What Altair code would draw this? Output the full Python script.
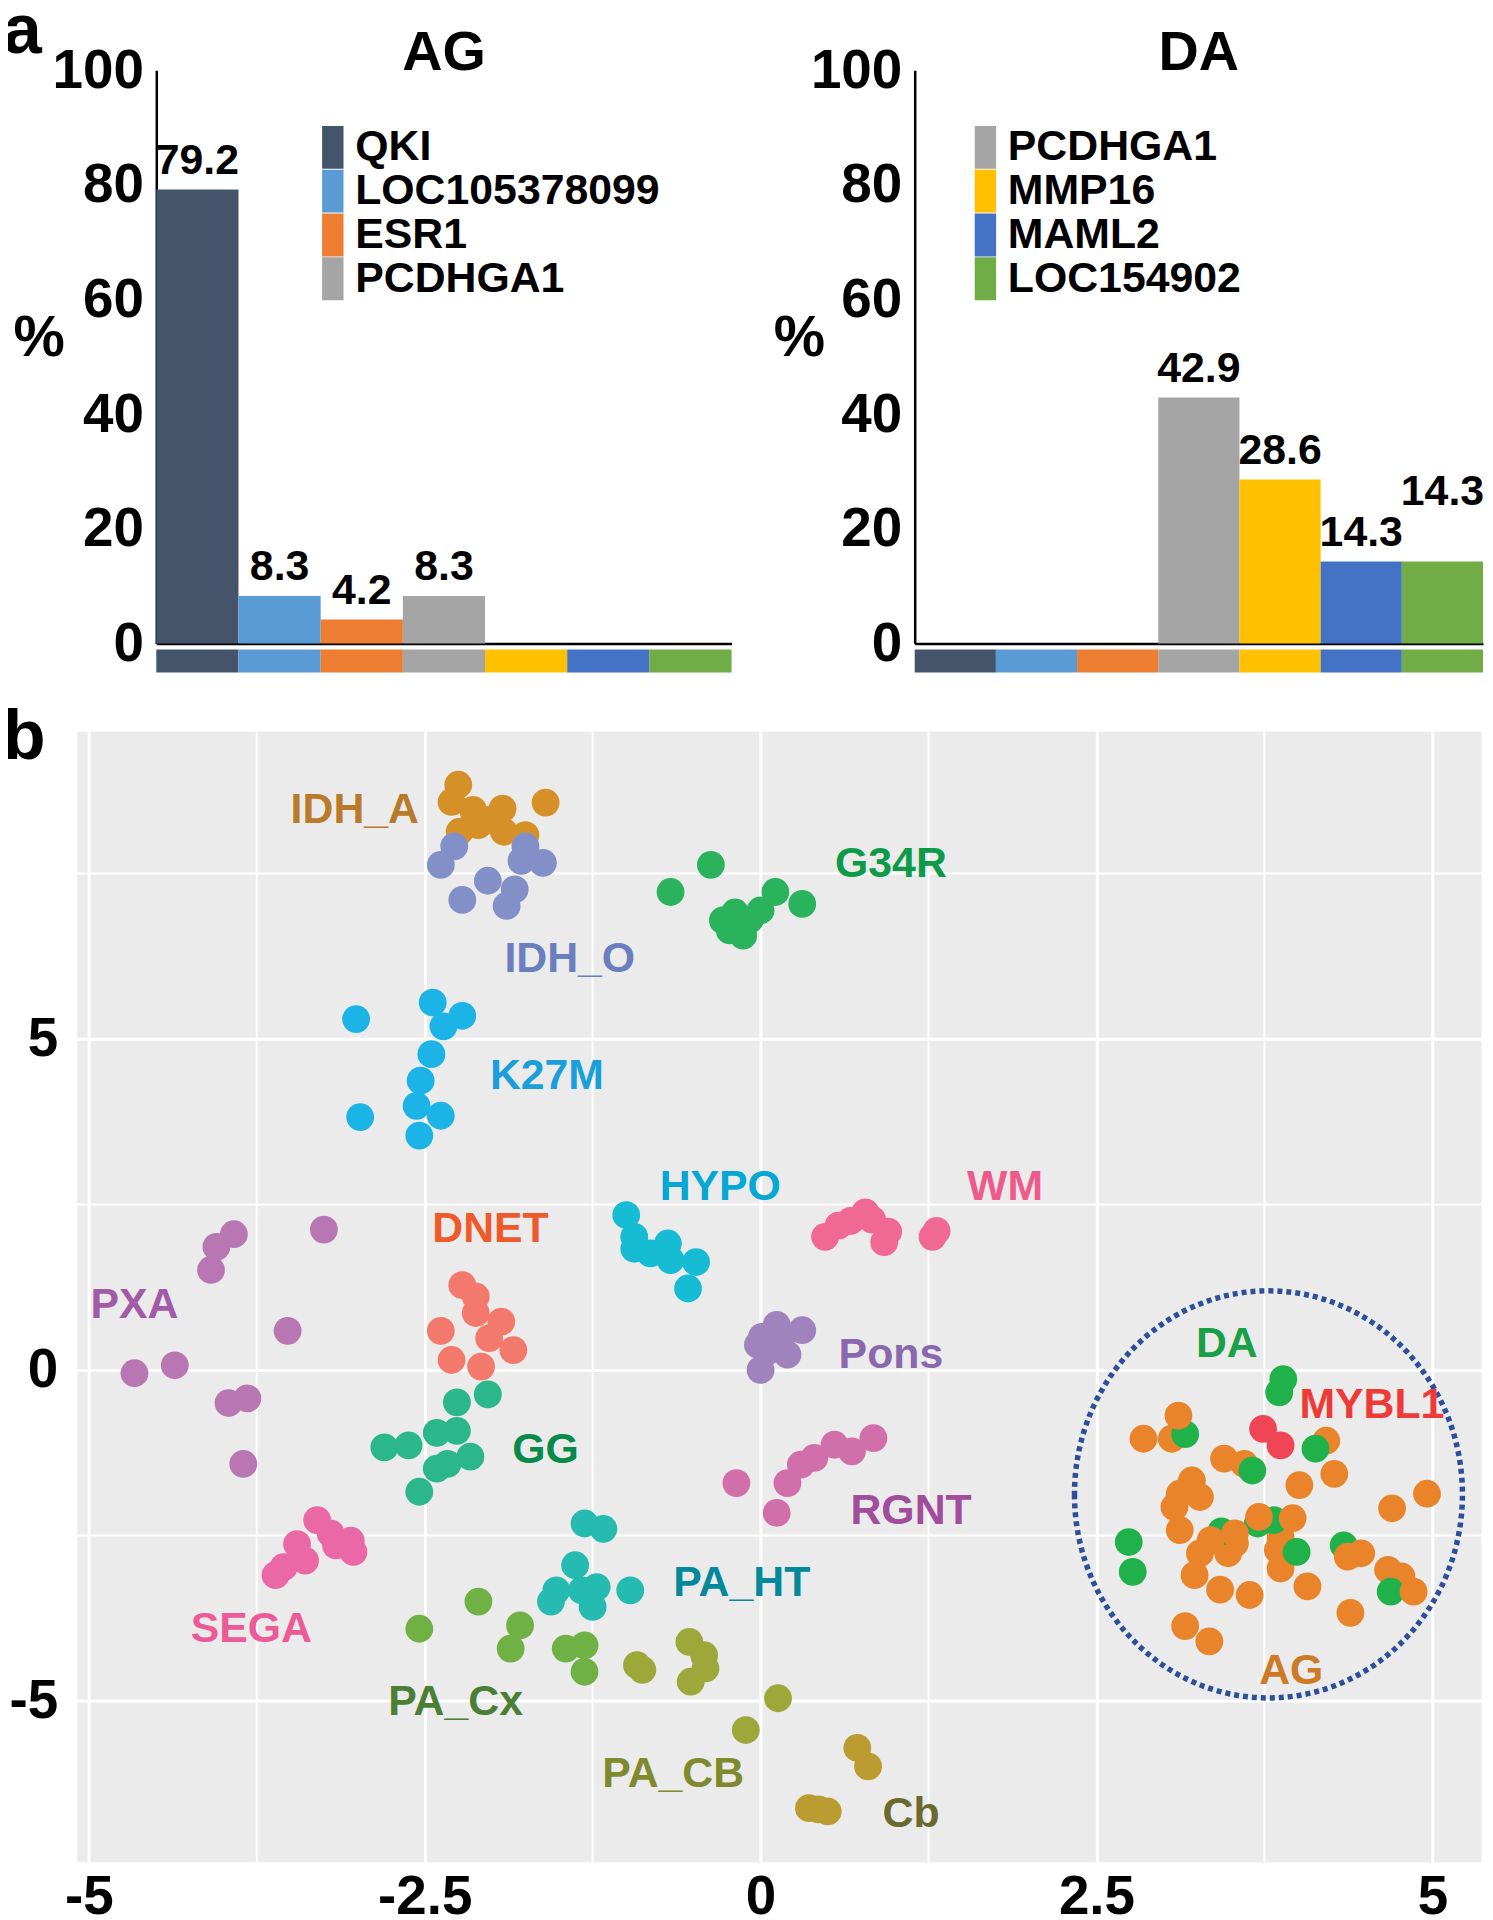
import altair as alt
import pandas as pd

FONT = "Liberation Sans"

# ---------------- panel a data ----------------
genes = ["QKI", "LOC105378099", "ESR1", "PCDHGA1", "MMP16", "MAML2", "LOC154902"]
gene_colors = ["#44546A", "#5B9BD5", "#ED7D31", "#A5A5A5", "#FFC000", "#4472C4", "#70AD47"]
ag_percent = [79.2, 8.3, 4.2, 8.3, 0, 0, 0]
da_percent = [0, 0, 0, 42.9, 28.6, 14.3, 14.3]
ag_legend_genes = ["QKI", "LOC105378099", "ESR1", "PCDHGA1"]
da_legend_genes = ["PCDHGA1", "MMP16", "MAML2", "LOC154902"]
percent_ticks = [0, 20, 40, 60, 80, 100]

# ---------------- panel b data ----------------
IDH_A = [(-2.25, 8.84), (-2.30, 8.58), (-2.14, 8.46), (-1.92, 8.48), (-1.60, 8.57),
         (-2.24, 8.13), (-2.10, 8.23), (-1.91, 8.13), (-1.75, 8.08), (-2.03, 8.31)]
IDH_O = [(-2.28, 7.91), (-2.38, 7.63), (-2.03, 7.39), (-1.83, 7.26), (-2.22, 7.10),
         (-1.89, 7.01), (-1.75, 7.91), (-1.62, 7.66), (-1.78, 7.69)]
G34R = [(-0.67, 7.22), (-0.37, 7.63), (0.11, 7.22), (0.31, 7.04), (-0.28, 6.79),
        (-0.19, 6.91), (-0.13, 6.56), (0.00, 6.94), (-0.23, 6.64), (-0.08, 6.80)]
K27M = [(-3.01, 5.30), (-2.44, 5.55), (-2.22, 5.35), (-2.36, 5.19), (-2.45, 4.77),
        (-2.53, 4.37), (-2.56, 3.99), (-2.38, 3.84), (-2.54, 3.54), (-2.98, 3.82)]
HYPO = [(-1.00, 2.34), (-0.94, 2.01), (-0.94, 1.83), (-0.82, 1.76), (-0.69, 1.91),
        (-0.67, 1.66), (-0.48, 1.63), (-0.54, 1.23)]
WM = [(0.48, 2.01), (0.58, 2.18), (0.67, 2.25), (0.78, 2.38), (0.83, 2.27),
      (0.95, 2.09), (0.92, 1.93), (1.31, 2.10), (1.28, 2.01)]
PXA = [(-3.92, 2.05), (-4.05, 1.86), (-4.09, 1.51), (-3.25, 2.12), (-3.52, 0.59),
       (-4.66, -0.05), (-4.36, 0.07), (-3.96, -0.50), (-3.82, -0.43), (-3.85, -1.42)]
DNET = [(-2.22, 1.28), (-2.12, 1.11), (-2.12, 0.86), (-1.93, 0.73), (-2.38, 0.59),
        (-2.02, 0.48), (-1.84, 0.30), (-2.30, 0.15), (-2.08, 0.05)]
Pons = [(0.01, 0.50), (0.12, 0.68), (0.31, 0.60), (0.20, 0.23), (0.00, 0.00),
        (0.05, 0.28), (0.15, 0.43), (-0.02, 0.38)]
GG = [(-2.03, -0.37), (-2.26, -0.49), (-2.41, -0.95), (-2.26, -0.92), (-2.80, -1.17),
      (-2.62, -1.14), (-2.16, -1.31), (-2.41, -1.49), (-2.33, -1.42), (-2.54, -1.84)]
RGNT = [(0.84, -1.03), (0.68, -1.23), (0.55, -1.13), (0.40, -1.33), (0.30, -1.43),
        (0.20, -1.71), (0.12, -2.16), (-0.18, -1.71)]
SEGA = [(-3.30, -2.27), (-3.20, -2.47), (-3.05, -2.58), (-3.03, -2.75), (-3.16, -2.65),
        (-3.45, -2.63), (-3.39, -2.88), (-3.55, -2.98), (-3.61, -3.10)]
PA_HT = [(-1.31, -2.32), (-1.17, -2.40), (-1.38, -2.95), (-1.52, -3.33), (-1.56, -3.50),
         (-1.22, -3.28), (-1.25, -3.58), (-0.97, -3.33), (-1.33, -3.33)]
PA_Cx = [(-2.54, -3.91), (-2.10, -3.50), (-1.79, -3.86), (-1.86, -4.21), (-1.45, -4.21),
         (-1.31, -4.16), (-1.31, -4.56)]
PA_CB = [(-0.92, -4.46), (-0.88, -4.53), (-0.53, -4.11), (-0.42, -4.31), (-0.41, -4.51),
         (-0.52, -4.71), (0.13, -4.96), (-0.11, -5.44)]
Cb = [(0.72, -5.71), (0.80, -5.99), (0.36, -6.62), (0.50, -6.67), (0.43, -6.64)]
AG_back = [(2.85, -1.04), (3.06, -1.04), (3.45, -1.34), (3.60, -1.42), (3.21, -1.67),
           (3.12, -1.87), (3.27, -1.92), (3.08, -2.07), (3.12, -2.42), (3.27, -2.77),
           (3.48, -2.77), (3.23, -3.10), (3.42, -3.32), (3.64, -3.40), (3.85, -2.72),
           (3.87, -3.00), (4.07, -3.27), (4.01, -1.74), (4.27, -1.57), (4.21, -1.07),
           (4.70, -2.09), (4.96, -1.87), (4.67, -3.02), (4.77, -3.12), (4.39, -3.67),
           (3.16, -3.87), (3.34, -4.10), (3.87, -2.52), (3.53, -2.62)]
DA = [(3.16, -0.97), (3.66, -1.52), (3.89, -0.14), (3.86, -0.34), (4.13, -1.19),
      (2.74, -2.60), (2.77, -3.05), (3.82, -2.27), (3.70, -2.32), (3.99, -2.75),
      (4.34, -2.65), (4.69, -3.35), (3.43, -2.44)]
AG_front = [(3.11, -0.69), (3.71, -2.22), (3.96, -2.24), (4.47, -2.77), (4.37, -2.82),
            (4.86, -3.35), (3.35, -2.57), (3.53, -2.47)]
MYBL1 = [(3.74, -0.89), (3.87, -1.14)]

cluster_order = ["IDH_A", "IDH_O", "G34R", "K27M", "HYPO", "WM", "PXA", "DNET", "Pons",
                 "GG", "RGNT", "SEGA", "PA_HT", "PA_Cx", "PA_CB", "Cb", "AG", "DA", "MYBL1"]
cluster_colors = ["#D69028", "#8390C7", "#2BB25C", "#1CB4E7", "#16BCD3", "#F06995",
                  "#B877B3", "#F4796D", "#A083BD", "#2CB78A", "#D16FAA", "#EA68A6",
                  "#25BBB1", "#6FB144", "#9CA93A", "#BA9C30", "#E9842B", "#21B14B", "#EF4554"]

label_names = ["IDH_A", "IDH_O", "G34R", "K27M", "HYPO", "WM", "DNET", "PXA", "Pons",
               "GG", "RGNT", "SEGA", "PA_HT", "PA_Cx", "PA_CB", "Cb", "DA", "MYBL1", "AG"]
label_x = [-3.02, -1.42, 0.97, -1.59, -0.30, 1.82, -2.01, -4.66, 0.97,
           -1.60, 1.12, -3.79, -0.14, -2.27, -0.65, 1.12, 3.47, 4.55, 3.95]
label_y = [8.49, 6.25, 7.68, 4.47, 2.80, 2.80, 2.16, 1.01, 0.26,
           -1.18, -2.10, -3.88, -3.19, -4.98, -6.07, -6.68, 0.43, -0.50, -4.52]
label_colors = ["#B97A2B", "#6A7EC0", "#0D9B49", "#1A9FDA", "#04A8D2", "#EF5A8C",
                "#EE5A2B", "#A15BA7", "#8A68B0", "#078A4B", "#A24C9C", "#EC5B98",
                "#04899A", "#4A7F35", "#7F8A2E", "#6A6A2E", "#1AA047", "#EE3B37", "#CD7926"]

x_ticks = [-5, -2.5, 0, 2.5, 5]
y_ticks = [-5, 0, 5]
x_minor = [-3.75, -1.25, 1.25, 3.75]
y_minor = [-2.5, 2.5, 7.5]
circle_center_x = [3.78]
circle_center_y = [-1.88]

# ---------------- panel a ----------------
RECT = "M-0.5,-1H0.5V1H-0.5Z"
BAR_H = 576


def bar_panel(name, pct, legend_genes, width, pct_title_x, legend_x, letter, raised):
    df = pd.DataFrame({"gene": genes, "pct": pct, "label": [f"{v:.1f}" for v in pct]})
    x = alt.X("gene:N", sort=genes,
              scale=alt.Scale(domain=genes, paddingInner=0, paddingOuter=0),
              axis=alt.Axis(labels=False, ticks=False, title=None, domainColor="black",
                            domainWidth=2.5, grid=False))
    y = alt.Y("pct:Q", scale=alt.Scale(domain=[0, 100], nice=False),
              axis=alt.Axis(values=percent_ticks, grid=False, ticks=False, domainColor="black",
                            domainWidth=2.5, labelFontSize=55, labelFontWeight="bold",
                            labelColor="black", labelPadding=13, title="%", titleAngle=0,
                            titleX=pct_title_x, titleY=270, titleAlign="left",
                            titleBaseline="middle", titleFontSize=58, titleFontWeight="bold",
                            titleColor="black"))
    color = alt.Color("gene:N", scale=alt.Scale(domain=genes, range=gene_colors),
                      legend=alt.Legend(values=legend_genes, orient="none", legendX=legend_x,
                                        legendY=56, title=None, symbolType=RECT,
                                        symbolSize=1849, symbolStrokeWidth=0, symbolOpacity=1,
                                        labelFontSize=43, labelFontWeight="bold",
                                        labelColor="black", labelOffset=1, labelLimit=600,
                                        rowPadding=0, padding=0))
    base = alt.Chart(df)
    bars = base.mark_bar(strokeWidth=0).encode(x=x, y=y, color=color)
    strip = base.mark_rect(strokeWidth=0).encode(
        x=x, y=alt.value(BAR_H + 6), y2=alt.value(BAR_H + 29), color=color)
    normal = base.transform_filter(
        f"datum.pct > 0 && datum.gene != '{raised}'"
    ).mark_text(dy=-16, baseline="alphabetic", fontSize=43, fontWeight="bold",
                color="black").encode(x=x, y=y, text="label:N")
    layers = [bars, strip, normal]
    if raised:
        layers.append(base.transform_filter(f"datum.gene == '{raised}'").mark_text(
            dy=-57, baseline="alphabetic", fontSize=43, fontWeight="bold", color="black"
        ).encode(x=x, y=y, text="label:N"))
    head = alt.Chart(pd.DataFrame({"t": [name]})).mark_text(
        align="center", baseline="alphabetic", fontSize=56, fontWeight="bold", color="black"
    ).encode(x=alt.value(width / 2), y=alt.value(0), text="t:N")
    layers.append(head)
    if letter:
        layers.append(alt.Chart(pd.DataFrame({"t": [letter]})).mark_text(
            align="left", baseline="alphabetic", fontSize=70, fontWeight="bold", color="black"
        ).encode(x=alt.value(-154), y=alt.value(-17), text="t:N"))
    return alt.layer(*layers).properties(width=width, height=BAR_H)


def spacer():
    return alt.Chart(pd.DataFrame({"s": [0]})).mark_rect(opacity=0).encode(
        x=alt.value(0), x2=alt.value(1), y=alt.value(0), y2=alt.value(1)
    ).properties(width=1, height=1)


ag_chart = bar_panel("AG", ag_percent, ag_legend_genes, 578, -144, 155.85, "a", "")
da_chart = bar_panel("DA", da_percent, da_legend_genes, 571, -142, 49.55, "", "LOC154902")

bars_row = alt.hconcat(ag_chart, da_chart, spacing=40).resolve_scale(
    color="independent").resolve_legend(color="independent")
top = alt.hconcat(spacer(), bars_row, spacing=-1)

# ---------------- panel b ----------------
draw_sequence = [("IDH_A", IDH_A), ("IDH_O", IDH_O), ("G34R", G34R), ("K27M", K27M),
                 ("HYPO", HYPO), ("WM", WM), ("PXA", PXA), ("DNET", DNET), ("Pons", Pons),
                 ("GG", GG), ("RGNT", RGNT), ("SEGA", SEGA), ("PA_HT", PA_HT),
                 ("PA_Cx", PA_Cx), ("PA_CB", PA_CB), ("Cb", Cb), ("AG", AG_back),
                 ("DA", DA), ("AG", AG_front), ("MYBL1", MYBL1)]
rows = []
for cname, pts in draw_sequence:
    for px, py in pts:
        rows.append({"cluster": cname, "x": px, "y": py})
pts_df = pd.DataFrame(rows)

xs = alt.Scale(domain=[-5.09, 5.362], nice=False, zero=False)
ys = alt.Scale(domain=[-7.43, 9.65], nice=False, zero=False)
xa = alt.Axis(values=x_ticks, labelExpr="datum.value + ''", grid=True, gridColor="white",
              gridWidth=3, domain=False, ticks=False, labelFontSize=55, labelFontWeight="bold",
              labelColor="black", labelPadding=9, labelFlush=False, title=None)
ya = alt.Axis(values=y_ticks, labelExpr="datum.value + ''", grid=True, gridColor="white",
              gridWidth=3, domain=False, ticks=False, labelFontSize=55, labelFontWeight="bold",
              labelColor="black", labelPadding=19, labelFlush=False, title=None)

minor_v = alt.Chart(pd.DataFrame({"v": x_minor})).mark_rule(
    color="white", strokeWidth=2).encode(x=alt.X("v:Q", scale=xs, axis=xa))
minor_h = alt.Chart(pd.DataFrame({"v": y_minor})).mark_rule(
    color="white", strokeWidth=2).encode(y=alt.Y("v:Q", scale=ys, axis=ya))

points = alt.Chart(pts_df).mark_circle(size=780, opacity=1).encode(
    x=alt.X("x:Q", scale=xs, axis=xa),
    y=alt.Y("y:Q", scale=ys, axis=ya),
    color=alt.Color("cluster:N", scale=alt.Scale(domain=cluster_order, range=cluster_colors),
                    legend=None))

ELLIPSE = "M-0.953,0A0.953,1 0 1,0 0.953,0A0.953,1 0 1,0 -0.953,0Z"
circle = alt.Chart(pd.DataFrame({"x": circle_center_x, "y": circle_center_y})).mark_point(
    shape=ELLIPSE, filled=False, size=167281, strokeWidth=5.5, strokeDash=[5, 4],
    color="#2D4F98", opacity=1
).encode(x=alt.X("x:Q", scale=xs, axis=xa), y=alt.Y("y:Q", scale=ys, axis=ya))

lab_df = pd.DataFrame({"name": label_names, "x": label_x, "y": label_y})
labels = alt.Chart(lab_df).mark_text(
    fontSize=43, fontWeight="bold", align="center", baseline="middle", dy=2.4
).encode(
    x=alt.X("x:Q", scale=xs, axis=xa),
    y=alt.Y("y:Q", scale=ys, axis=ya),
    text="name:N",
    color=alt.Color("name:N", scale=alt.Scale(domain=label_names, range=label_colors),
                    legend=None))

letter_b = alt.Chart(pd.DataFrame({"t": ["b"]})).mark_text(
    align="left", baseline="alphabetic", fontSize=70, fontWeight="bold", color="black"
).encode(x=alt.value(-74), y=alt.value(28), text="t:N")

scatter = alt.layer(minor_v, minor_h, points, circle, labels, letter_b).resolve_scale(
    color="independent"
).properties(width=1411, height=1136,
             view=alt.ViewBackground(fill="#EBEBEB", stroke="transparent"))

bottom = alt.hconcat(spacer(), scatter, spacing=-1)

chart = alt.vconcat(top, bottom, spacing=29).resolve_scale(
    color="independent"
).properties(
    padding={"top": -16, "left": -8, "right": 0, "bottom": 0}
).configure(font=FONT).configure_view(stroke="transparent")

chart.save("out.html", embed_options={"renderer": "svg", "actions": False})
